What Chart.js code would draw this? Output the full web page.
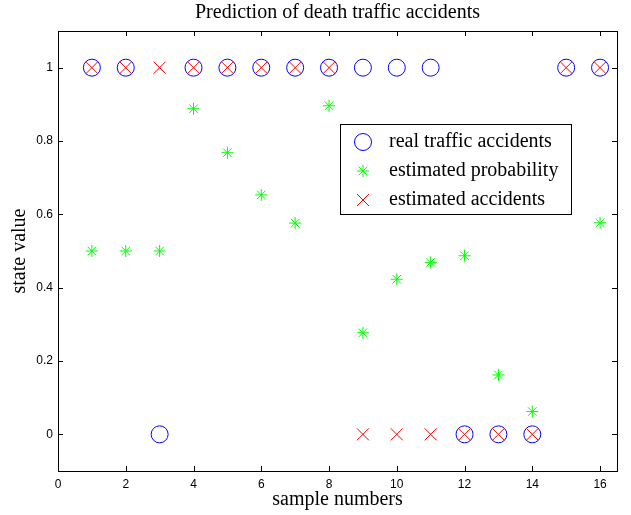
<!DOCTYPE html>
<html>
<head>
<meta charset="utf-8">
<script src="https://cdn.jsdelivr.net/npm/chart.js@4.4.0/dist/chart.umd.min.js"></script>
<style>
  html, body { margin: 0; padding: 0; background: #fff; }
</style>
</head>
<body>
<canvas id="chart" width="631" height="515"></canvas>
<script>
// data
const samples = [1, 2, 3, 4, 5, 6, 7, 8, 9, 10, 11, 12, 13, 14, 15, 16];
const realAccidents = [1, 1, 0, 1, 1, 1, 1, 1, 1, 1, 1, 0, 0, 0, 1, 1];
const estimatedProbability = [0.5, 0.5, 0.5, 0.888, 0.768, 0.653, 0.576, 0.896, 0.277, 0.423, 0.469, 0.487, 0.162, 0.062, null, 0.577];
const estimatedAccidents = [1, 1, 1, 1, 1, 1, 1, 1, 0, 0, 0, 0, 0, 0, 1, 1];

const xTickValues = [0, 2, 4, 6, 8, 10, 12, 14, 16];
const yTickValues = [0, 0.2, 0.4, 0.6, 0.8, 1];
const yTickLabels = ['0', '0.2', '0.4', '0.6', '0.8', '1'];

const serif = '"Liberation Serif", "Times New Roman", serif';
const sans = '"Liberation Sans", Arial, sans-serif';

function toPoints(values) {
  return samples.map((s, i) => ({ x: s, y: values[i] }));
}

// matlab style box with inward ticks on all four sides
const matlabAxes = {
  id: 'matlabAxes',
  afterDraw(chart) {
    const { ctx, chartArea, scales } = chart;
    const len = 5;
    ctx.save();
    ctx.strokeStyle = '#000';
    ctx.lineWidth = 1;
    ctx.beginPath();
    scales.x.ticks.forEach(t => {
      const px = Math.round(scales.x.getPixelForValue(t.value)) + 0.5;
      ctx.moveTo(px, chartArea.bottom); ctx.lineTo(px, chartArea.bottom - len);
      ctx.moveTo(px, chartArea.top); ctx.lineTo(px, chartArea.top + len);
    });
    scales.y.ticks.forEach(t => {
      const py = Math.round(scales.y.getPixelForValue(t.value)) + 0.5;
      ctx.moveTo(chartArea.left, py); ctx.lineTo(chartArea.left + len, py);
      ctx.moveTo(chartArea.right, py); ctx.lineTo(chartArea.right - len, py);
    });
    ctx.stroke();
    ctx.strokeRect(Math.round(chartArea.left) + 0.5, Math.round(chartArea.top) + 0.5,
      Math.round(chartArea.right - chartArea.left), Math.round(chartArea.bottom - chartArea.top));
    ctx.restore();
  }
};

// boxed legend inside the plot like matlab's
const legendBox = {
  id: 'legendBox',
  afterDraw(chart, args, opts) {
    const { ctx, chartArea } = chart;
    const x = Math.round(chartArea.left + opts.offsetX);
    const y = Math.round(chartArea.top + opts.offsetY);
    ctx.save();
    ctx.fillStyle = '#fff';
    ctx.fillRect(x, y, opts.width, opts.height);
    ctx.strokeStyle = '#000';
    ctx.lineWidth = 1;
    ctx.strokeRect(x + 0.5, y + 0.5, opts.width, opts.height);
    ctx.font = '20px ' + serif;
    ctx.textBaseline = 'middle';
    chart.data.datasets.forEach((ds, i) => {
      const cy = y + opts.firstRow + i * opts.rowGap;
      ctx.strokeStyle = ds.borderColor;
      ctx.fillStyle = 'rgba(0,0,0,0)';
      ctx.lineWidth = 1;
      Chart.helpers.drawPoint(ctx, { pointStyle: ds.pointStyle, radius: ds.pointRadius, borderWidth: 1, rotation: 0 }, x + opts.markerX, cy);
      ctx.fillStyle = '#000';
      ctx.fillText(ds.label, x + opts.textX, cy);
    });
    ctx.restore();
  }
};

const ctx = document.getElementById('chart').getContext('2d');

new Chart(ctx, {
  type: 'scatter',
  data: {
    datasets: [
      {
        label: 'real traffic accidents',
        data: toPoints(realAccidents),
        pointStyle: 'circle',
        pointRadius: 8.5,
        borderColor: '#0000ff',
        backgroundColor: 'rgba(0,0,0,0)',
        borderWidth: 1,
        order: 3
      },
      {
        label: 'estimated probability',
        data: toPoints(estimatedProbability),
        pointStyle: 'star',
        pointRadius: 6,
        borderColor: '#00ff00',
        backgroundColor: '#00ff00',
        borderWidth: 1,
        order: 2
      },
      {
        label: 'estimated accidents',
        data: toPoints(estimatedAccidents),
        pointStyle: 'crossRot',
        pointRadius: 8.5,
        borderColor: '#ff0000',
        backgroundColor: '#ff0000',
        borderWidth: 1,
        order: 1
      }
    ]
  },
  options: {
    responsive: false,
    animation: false,
    layout: { padding: { left: 0, right: 14, top: 0, bottom: 0 } },
    plugins: {
      legend: { display: false },
      tooltip: { enabled: false },
      title: {
        display: true,
        fullSize: false,
        text: 'Prediction of death traffic accidents',
        color: '#000',
        font: { family: serif, size: 20, weight: 'normal' },
        padding: { top: 1, bottom: 6 }
      },
      legendBox: { offsetX: 282, offsetY: 93, width: 231, height: 90, markerX: 23, textX: 49, firstRow: 18, rowGap: 29 }
    },
    scales: {
      x: {
        type: 'linear',
        min: 0,
        max: 16.5,
        afterBuildTicks: scale => { scale.ticks = xTickValues.map(v => ({ value: v })); },
        afterFit: scale => { scale.height = 44; },
        grid: { display: false, drawTicks: false },
        border: { display: false },
        ticks: {
          color: '#000',
          padding: 6,
          font: { family: sans, size: 12 },
          callback: v => String(v)
        },
        title: {
          display: true,
          text: 'sample numbers',
          color: '#000',
          font: { family: serif, size: 20 },
          padding: { top: 0, bottom: 3 }
        }
      },
      y: {
        type: 'linear',
        min: -0.1,
        max: 1.1,
        afterBuildTicks: scale => { scale.ticks = yTickValues.map(v => ({ value: v })); },
        afterFit: scale => { scale.width = 58; },
        grid: { display: false, drawTicks: false },
        border: { display: false },
        ticks: {
          color: '#000',
          padding: 5,
          font: { family: sans, size: 12 },
          callback: v => yTickLabels[yTickValues.findIndex(t => Math.abs(t - v) < 1e-9)]
        },
        title: {
          display: true,
          text: 'state value',
          color: '#000',
          font: { family: serif, size: 20 },
          padding: { top: 8, bottom: 0 }
        }
      }
    }
  },
  plugins: [matlabAxes, legendBox]
});
</script>
</body>
</html>
